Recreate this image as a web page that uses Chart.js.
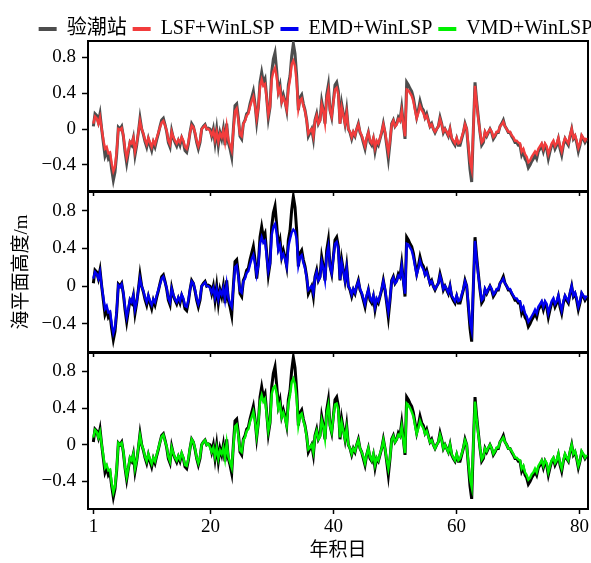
<!DOCTYPE html>
<html>
<head>
<meta charset="utf-8">
<script src="https://cdn.jsdelivr.net/npm/chart.js@4.4.0/dist/chart.umd.min.js"></script>
<style>
  html, body { margin: 0; padding: 0; background: #fff; overflow: hidden; width: 591px; height: 563px; }
  canvas { position: absolute; left: 0; }
</style>
</head>
<body>
<canvas id="panel1" width="600" height="190" style="top:21px"></canvas>
<canvas id="panel2" width="600" height="200" style="top:172px"></canvas>
<canvas id="panel3" width="600" height="230" style="top:333px"></canvas>
<canvas id="leyenda" width="600" height="60" style="top:0px"></canvas>
<script>
// eje x: año-día, muestras uniformes
const DIA_INICIO = 0.97;
const PASO = 0.271;
const ticksX = [1, 20, 40, 60, 80];
const ticksY = [-0.4, 0, 0.4, 0.8];
const nombres = ['验潮站', 'LSF+WinLSP', 'EMD+WinLSP', 'VMD+WinLSP'];

// nivel observado (m)
const obs = [
  0.03,0.17,0.15,0.08,0.17,0.0,-0.15,-0.3,-0.25,-0.33,
  -0.3,-0.45,-0.57,-0.48,-0.28,0.02,0.0,0.03,-0.08,-0.25,
  -0.38,-0.26,-0.15,-0.18,-0.1,-0.29,-0.18,-0.04,0.12,0.0,
  -0.06,-0.14,-0.2,-0.11,-0.18,-0.24,-0.15,-0.2,-0.12,-0.05,
  0.03,0.1,0.12,0.05,-0.03,-0.15,-0.2,-0.02,-0.1,-0.15,
  -0.19,-0.13,-0.18,-0.1,-0.15,-0.24,-0.26,-0.17,-0.04,0.06,
  0.03,-0.05,-0.15,-0.22,-0.15,0.0,0.03,0.05,0.0,0.01,
  0,-0.08,0,-0.15,0,-0.18,-0.04,-0.11,0,-0.18,
  0.06,-0.15,-0.22,-0.31,0,0.26,0.28,0.13,-0.08,-0.11,
  0.06,0.1,0.17,0.19,0.28,0.35,0.42,0.28,0.08,0.24,
  0.52,0.63,0.52,0.56,0.35,0.12,0.24,0.63,0.78,0.85,
  0.65,0.42,0.49,0.31,0.38,0.31,0.21,0.49,0.59,0.81,
  0.95,0.84,0.59,0.21,0.35,0.38,0.28,0.21,0.1,-0.08,
  -0.04,0,-0.11,0.1,0.17,0.06,0.1,0.31,0.21,0.06,
  0.38,0.49,0.21,0.13,0.31,
  0.49,0.52,0.42,0.06,0.28,0.17,0.06,0.21,0,-0.04,
  -0.11,-0.04,-0.08,0,0.06,-0.04,-0.08,-0.15,-0.22,-0.11,
  -0.04,-0.15,-0.18,-0.11,-0.25,-0.15,-0.18,-0.11,-0.04,0.06,
  -0.04,-0.18,-0.33,-0.15,0.06,0.1,0.03,0.06,0.13,0.1,
  0.24,0.06,-0.11,0.52,0.49,0.45,0.42,0.35,0.24,0.13,
  0.21,0.31,0.24,0.21,0.13,0.17,0.1,0.03,0.06,0,
  -0.04,0,0.03,0.13,0.06,-0.04,0,-0.04,-0.08,0,
  -0.11,-0.15,-0.18,-0.11,-0.18,
  -0.18,-0.11,-0.04,0.06,0,-0.22,-0.45,-0.59,0.0,0.52,
  0.31,0.13,-0.04,-0.18,-0.15,-0.04,-0.08,-0.04,0,-0.04,
  -0.11,-0.08,-0.04,-0.04,0.03,0.06,0.1,0.03,0,-0.04,
  -0.04,-0.08,-0.11,-0.15,-0.15,-0.18,-0.18,-0.29,-0.25,-0.33,
  -0.36,-0.43,-0.4,-0.36,-0.33,-0.29,-0.33,-0.25,-0.22,-0.18,
  -0.25,-0.18,-0.22,-0.33,-0.25,-0.18,-0.15,-0.22,-0.18,-0.11,
  -0.22,-0.29,-0.18,-0.11,-0.15,-0.18,-0.08,0,-0.11,-0.08,
  -0.15,-0.25,-0.18,-0.08,-0.11,-0.15,-0.12
];

// LSF+WinLSP
const lsf = [
  0.06,0.14,0.12,0.06,0.13,0.0,-0.12,-0.22,-0.2,-0.27,
  -0.26,-0.38,-0.47,-0.42,-0.25,0.0,-0.01,0.01,-0.07,-0.22,
  -0.32,-0.24,-0.14,-0.16,-0.1,-0.25,-0.16,-0.04,0.09,0.0,
  -0.05,-0.12,-0.17,-0.1,-0.15,-0.2,-0.13,-0.17,-0.1,-0.04,
  0.02,0.07,0.09,0.04,-0.02,-0.13,-0.17,-0.03,-0.09,-0.13,
  -0.16,-0.12,-0.15,-0.09,-0.13,-0.2,-0.22,-0.15,-0.04,0.04,
  0.02,-0.04,-0.13,-0.19,-0.13,0.0,0.02,0.04,0.0,0.0,
  -0.02,-0.07,-0.02,-0.12,-0.03,-0.14,-0.05,-0.09,-0.02,-0.14,
  0.03,-0.12,-0.18,-0.24,-0.02,0.2,0.23,0.1,-0.06,-0.08,
  0.06,0.09,0.15,0.17,0.25,0.31,0.36,0.26,0.12,0.24,
  0.47,0.55,0.48,0.5,0.34,0.16,0.25,0.55,0.64,0.68,
  0.58,0.4,0.45,0.3,0.35,0.3,0.22,0.44,0.55,0.72,
  0.76,0.7,0.52,0.22,0.32,0.34,0.26,0.2,0.09,-0.05,
  -0.02,0.0,-0.08,0.09,0.15,0.06,0.09,0.27,0.2,0.07,
  0.34,0.43,0.21,0.14,0.29,
  0.44,0.46,0.38,0.06,0.24,0.15,0.06,0.18,0.0,-0.03,
  -0.09,-0.03,-0.07,0.0,0.05,-0.03,-0.07,-0.13,-0.19,-0.1,
  -0.04,-0.13,-0.16,-0.1,-0.21,-0.13,-0.16,-0.1,-0.03,0.05,
  -0.03,-0.15,-0.26,-0.13,0.05,0.09,0.03,0.05,0.11,0.09,
  0.2,0.05,-0.08,0.44,0.43,0.4,0.37,0.31,0.21,0.12,
  0.18,0.26,0.21,0.18,0.12,0.15,0.09,0.03,0.05,0.0,
  -0.03,0.0,0.03,0.11,0.05,-0.03,0.0,-0.03,-0.07,0.0,
  -0.1,-0.13,-0.16,-0.1,-0.16,
  -0.15,-0.09,-0.03,0.05,0.0,-0.18,-0.36,-0.45,0.0,0.48,
  0.28,0.11,-0.03,-0.15,-0.13,-0.03,-0.07,-0.03,0.0,-0.03,
  -0.09,-0.07,-0.03,-0.03,0.03,0.05,0.08,0.03,0.0,-0.03,
  -0.03,-0.07,-0.09,-0.13,-0.13,-0.15,-0.16,-0.25,-0.22,-0.28,
  -0.31,-0.37,-0.35,-0.31,-0.28,-0.25,-0.28,-0.22,-0.19,-0.16,
  -0.22,-0.16,-0.19,-0.28,-0.22,-0.16,-0.13,-0.19,-0.16,-0.1,
  -0.19,-0.25,-0.16,-0.1,-0.13,-0.16,-0.07,0.0,-0.1,-0.07,
  -0.13,-0.21,-0.16,-0.07,-0.1,-0.13,-0.1
];

// EMD+WinLSP
const emd = [
  0.08,0.15,0.13,0.08,0.15,0.0,-0.12,-0.24,-0.21,-0.28,
  -0.27,-0.4,-0.5,-0.44,-0.26,0.01,-0.01,0.02,-0.07,-0.22,
  -0.33,-0.24,-0.14,-0.17,-0.1,-0.25,-0.17,-0.04,0.08,0.0,
  -0.05,-0.12,-0.17,-0.1,-0.16,-0.2,-0.14,-0.17,-0.1,-0.04,
  0.02,0.08,0.1,0.04,-0.02,-0.13,-0.17,-0.03,-0.09,-0.14,
  -0.17,-0.12,-0.16,-0.09,-0.13,-0.21,-0.22,-0.15,-0.04,0.05,
  0.03,-0.04,-0.13,-0.19,-0.13,0.0,0.02,0.04,0.0,0.0,
  -0.02,-0.07,-0.02,-0.12,-0.03,-0.14,-0.05,-0.09,-0.02,-0.14,
  0.02,-0.12,-0.18,-0.22,-0.02,0.2,0.22,0.1,-0.05,-0.07,
  0.05,0.08,0.14,0.16,0.23,0.29,0.33,0.24,0.12,0.22,
  0.45,0.52,0.46,0.48,0.32,0.16,0.24,0.54,0.63,0.66,
  0.56,0.38,0.43,0.3,0.34,0.29,0.21,0.42,0.5,0.57,
  0.6,0.58,0.5,0.22,0.31,0.33,0.25,0.19,0.09,-0.04,
  -0.02,0.0,-0.07,0.09,0.15,0.06,0.09,0.26,0.19,0.07,
  0.33,0.42,0.21,0.14,0.3,
  0.45,0.47,0.39,0.07,0.25,0.16,0.06,0.19,0.0,-0.03,
  -0.09,-0.03,-0.07,0.0,0.05,-0.03,-0.07,-0.13,-0.19,-0.1,
  -0.04,-0.13,-0.16,-0.1,-0.22,-0.13,-0.16,-0.1,-0.03,0.05,
  -0.03,-0.16,-0.27,-0.13,0.05,0.09,0.03,0.05,0.11,0.09,
  0.21,0.05,-0.08,0.45,0.44,0.41,0.38,0.31,0.21,0.12,
  0.19,0.27,0.21,0.18,0.12,0.15,0.09,0.03,0.05,0.0,
  -0.03,0.0,0.03,0.11,0.05,-0.03,0.0,-0.03,-0.07,0.0,
  -0.1,-0.13,-0.16,-0.1,-0.16,
  -0.15,-0.09,-0.03,0.05,0.0,-0.19,-0.38,-0.47,0.0,0.48,
  0.28,0.11,-0.03,-0.15,-0.13,-0.03,-0.07,-0.03,0.0,-0.03,
  -0.09,-0.07,-0.03,-0.03,0.03,0.05,0.08,0.03,0.0,-0.03,
  -0.03,-0.07,-0.1,-0.13,-0.13,-0.16,-0.16,-0.25,-0.22,-0.29,
  -0.32,-0.38,-0.35,-0.32,-0.29,-0.25,-0.29,-0.22,-0.19,-0.16,
  -0.22,-0.16,-0.19,-0.29,-0.22,-0.16,-0.13,-0.19,-0.16,-0.1,
  -0.19,-0.26,-0.16,-0.1,-0.13,-0.16,-0.07,0.0,-0.1,-0.07,
  -0.13,-0.22,-0.16,-0.07,-0.1,-0.13,-0.1
];

// VMD+WinLSP
const vmd = [
  0.08,0.16,0.14,0.08,0.14,0.0,-0.12,-0.25,-0.22,-0.28,
  -0.27,-0.42,-0.52,-0.45,-0.26,0.02,0.0,0.02,-0.07,-0.24,
  -0.35,-0.25,-0.14,-0.17,-0.1,-0.26,-0.17,-0.03,0.1,0.0,
  -0.05,-0.13,-0.18,-0.1,-0.16,-0.21,-0.14,-0.18,-0.11,-0.04,
  0.03,0.09,0.11,0.04,-0.02,-0.13,-0.18,-0.03,-0.09,-0.14,
  -0.17,-0.12,-0.16,-0.09,-0.14,-0.22,-0.23,-0.15,-0.04,0.06,
  0.03,-0.04,-0.14,-0.2,-0.13,0.0,0.03,0.05,0.0,0.01,
  -0.03,-0.08,-0.03,-0.13,-0.03,-0.15,-0.06,-0.1,-0.03,-0.15,
  0.02,-0.13,-0.19,-0.25,-0.02,0.2,0.22,0.1,-0.06,-0.08,
  0.05,0.08,0.15,0.17,0.25,0.3,0.36,0.26,0.1,0.24,
  0.47,0.54,0.47,0.5,0.33,0.15,0.25,0.55,0.62,0.64,
  0.56,0.39,0.44,0.3,0.35,0.29,0.21,0.44,0.54,0.68,
  0.72,0.66,0.5,0.21,0.32,0.34,0.26,0.2,0.09,-0.05,
  -0.03,0.0,-0.08,0.09,0.15,0.06,0.09,0.27,0.2,0.07,
  0.34,0.43,0.21,0.14,0.3,
  0.44,0.45,0.38,0.08,0.24,0.15,0.06,0.18,0.0,-0.04,
  -0.1,-0.04,-0.07,0.0,0.05,-0.04,-0.08,-0.13,-0.2,-0.11,
  -0.04,-0.13,-0.17,-0.1,-0.22,-0.14,-0.17,-0.1,-0.04,0.05,
  -0.04,-0.16,-0.26,-0.14,0.05,0.09,0.03,0.06,0.11,0.09,
  0.2,0.05,-0.09,0.45,0.43,0.4,0.36,0.31,0.21,0.12,
  0.18,0.26,0.21,0.18,0.12,0.15,0.09,0.03,0.05,0.0,
  -0.04,0.0,0.03,0.11,0.05,-0.04,0.0,-0.04,-0.08,0.0,
  -0.1,-0.14,-0.17,-0.1,-0.17,
  -0.15,-0.1,-0.03,0.05,0.0,-0.19,-0.37,-0.46,0.0,0.47,
  0.27,0.11,-0.03,-0.16,-0.13,-0.04,-0.07,-0.03,0.0,-0.04,
  -0.1,-0.07,-0.03,-0.03,0.03,0.05,0.08,0.03,0.0,-0.04,
  -0.04,-0.07,-0.1,-0.14,-0.14,-0.16,-0.17,-0.26,-0.23,-0.3,
  -0.33,-0.38,-0.36,-0.32,-0.3,-0.26,-0.3,-0.23,-0.2,-0.17,
  -0.23,-0.17,-0.2,-0.3,-0.23,-0.17,-0.14,-0.2,-0.17,-0.1,
  -0.2,-0.26,-0.17,-0.1,-0.14,-0.17,-0.07,0.0,-0.1,-0.07,
  -0.14,-0.23,-0.17,-0.07,-0.1,-0.14,-0.11
];

const FUENTE = 'Liberation Serif, "Noto Sans CJK SC", serif';
const puntos = serie => serie.map((v, i) => ({ x: DIA_INICIO + i * PASO, y: v }));
const etiquetaY = v => v === 0 ? '0' : (v < 0 ? '\u2212' + Math.abs(v) : String(v));

function panel(id, modelo, nombre, color, colorObs, rangoY, ultimo, tituloY) {
  new Chart(document.getElementById(id), {
    type: 'line',
    data: {
      datasets: [
        { label: nombres[0], data: puntos(obs), borderColor: colorObs, borderWidth: 3,
          pointRadius: 0, tension: 0, order: 2 },
        { label: nombre, data: puntos(modelo), borderColor: color, borderWidth: 2.4,
          pointRadius: 0, tension: 0, order: 1 }
      ]
    },
    options: {
      responsive: false,
      animation: false,
      devicePixelRatio: 1,
      layout: { padding: { top: 20, left: 0, right: 12, bottom: 0 } },
      plugins: { legend: { display: false }, tooltip: { enabled: false } },
      scales: {
        x: {
          type: 'linear', min: 0.1, max: 81.4,
          afterBuildTicks: s => { s.ticks = ticksX.map(v => ({ value: v })); },
          afterFit: s => { s.height = ultimo ? 54 : 20; },
          ticks: { display: ultimo, color: '#000', padding: 2, maxRotation: 0, autoSkip: false,
                   font: { family: FUENTE, size: 19 } },
          grid: { display: true, drawOnChartArea: false, tickLength: 5, tickWidth: 1.5, color: '#000' },
          border: { display: true, color: '#000', width: 2 },
          title: { display: ultimo, text: '年积日', color: '#000', padding: { top: 0, bottom: 1 },
                   font: { family: FUENTE, size: 19 } }
        },
        y: {
          min: rangoY[0], max: rangoY[1],
          afterBuildTicks: s => { s.ticks = ticksY.map(v => ({ value: v })); },
          afterFit: s => { s.width = 88; },
          ticks: { color: '#000', padding: 6, callback: etiquetaY, font: { family: FUENTE, size: 19 } },
          grid: { display: true, drawOnChartArea: false, tickLength: 6, tickWidth: 1.5, color: '#000' },
          border: { display: true, color: '#000', width: 2 },
          title: { display: tituloY, text: '海平面高度/m', color: '#000', padding: { top: 11, bottom: 0 },
                   font: { family: FUENTE, size: 19 } }
        },
        xTop: {
          type: 'linear', position: 'top', display: true,
          ticks: { display: false }, grid: { display: false },
          border: { display: true, color: '#000', width: 2 },
          afterFit: s => { s.height = 0; }
        },
        yRight: {
          type: 'linear', position: 'right', display: true,
          ticks: { display: false }, grid: { display: false },
          border: { display: true, color: '#000', width: 2 },
          afterFit: s => { s.width = 0; }
        }
      }
    }
  });
}

panel('panel1', lsf, nombres[1], '#f23c3c', '#4d4d4d', [-0.69, 0.98], false, false);
panel('panel2', emd, nombres[2], '#0000f0', '#000000', [-0.70, 1.0], false, true);
panel('panel3', vmd, nombres[3], '#00f000', '#000000', [-0.70, 1.0], true, false);

// leyenda común arriba
new Chart(document.getElementById('leyenda'), {
  type: 'line',
  data: {
    datasets: [
      { label: nombres[0], data: [], backgroundColor: '#4d4d4d', borderColor: '#4d4d4d', borderWidth: 0 },
      { label: nombres[1], data: [], backgroundColor: '#f23c3c', borderColor: '#f23c3c', borderWidth: 0 },
      { label: nombres[2], data: [], backgroundColor: '#0000f0', borderColor: '#0000f0', borderWidth: 0 },
      { label: nombres[3], data: [], backgroundColor: '#00f000', borderColor: '#00f000', borderWidth: 0 }
    ]
  },
  options: {
    responsive: false,
    animation: false,
    devicePixelRatio: 1,
    layout: { padding: { top: 13, left: 31, right: 0, bottom: 0 } },
    scales: { x: { display: false }, y: { display: false } },
    plugins: {
      tooltip: { enabled: false },
      legend: {
        display: true, position: 'top', align: 'center',
        labels: { boxWidth: 18, boxHeight: 4, padding: 6, color: '#000',
                  font: { family: FUENTE, size: 20 } }
      }
    }
  }
});
</script>
</body>
</html>
